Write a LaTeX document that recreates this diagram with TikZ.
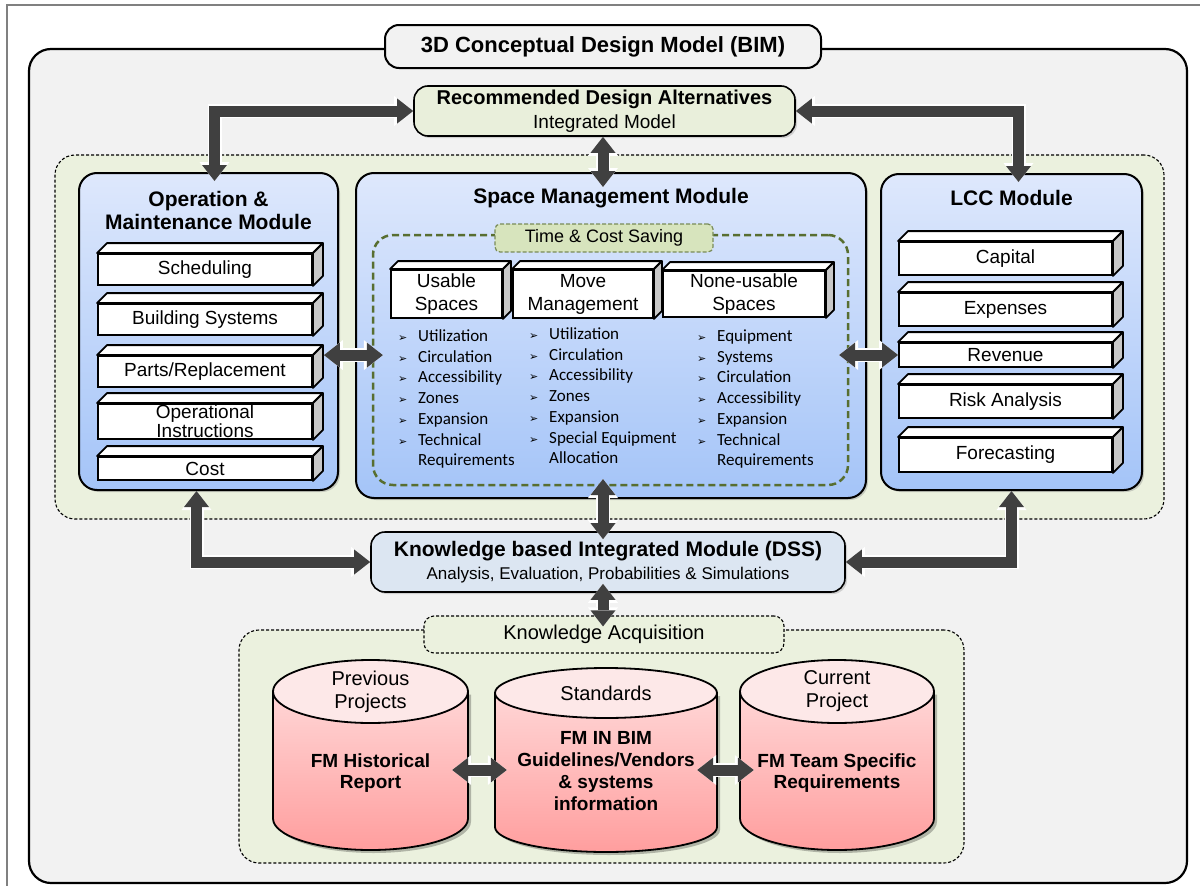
\documentclass[tikz,border=0pt]{standalone}
\usepackage{fontspec}
\setmainfont{Liberation Sans}
\newfontfamily\calibri{Carlito}
\newfontfamily\dingbat{DejaVu Sans}
\usetikzlibrary{arrows.meta,shadows,positioning}

\definecolor{paneGray}{RGB}{242,242,242}
\definecolor{paneGreen}{RGB}{235,241,222}
\definecolor{recmGreen}{RGB}{233,239,219}
\definecolor{modTop}{RGB}{222,232,252}
\definecolor{modBot}{RGB}{164,196,248}
\definecolor{olive}{RGB}{88,110,48}
\definecolor{tagGreen}{RGB}{215,228,189}
\definecolor{dssBlue}{RGB}{220,230,242}
\definecolor{linkGray}{RGB}{64,64,64}
\definecolor{sideGray}{RGB}{200,200,200}
\definecolor{drumTop}{RGB}{253,232,232}
\definecolor{drumHi}{RGB}{255,214,214}
\definecolor{drumLo}{RGB}{255,158,158}

\newcommand\fsz[2]{\fontsize{#1pt}{#2pt}\selectfont}
\newcommand\bul{\makebox[20pt][l]{\dingbat\fsz{11}{11}➢}}

\tikzset{
  pane/.style={draw, line width=2.2pt, rounded corners=22pt, fill=paneGray, inner sep=0pt},
  zone/.style={draw, line width=1.1pt, dash pattern=on 3pt off 2pt, rounded corners=20pt, fill=paneGreen, inner sep=0pt},
  capsule/.style={draw, line width=1.6pt, rounded corners=14pt, align=center, inner sep=0pt,
    drop shadow={shadow xshift=2pt, shadow yshift=-2pt, opacity=.3}},
  module/.style={draw, line width=2pt, rounded corners=18pt, top color=modTop, bottom color=modBot, inner sep=0pt,
    drop shadow={shadow xshift=2pt, shadow yshift=-2pt, opacity=.35}},
  headline/.style={font=\bfseries\fsz{21}{23}, align=center, inner sep=0pt},
  slabface/.style={draw, line width=1.8pt, fill=white, inner sep=0pt, align=center, font=\fsz{19}{22}},
  slabedge/.style={draw, line width=1.8pt, line join=round},
  point/.style={anchor=base west, inner sep=0pt, font=\calibri\fsz{17}{20}},
  link/.style={draw=linkGray, line width=11pt,
    arrows={Triangle[width=25pt,length=16pt,line width=0pt]-Triangle[width=25pt,length=16pt,line width=0pt]},
    preaction={draw=white, line width=14pt,
      arrows={Triangle[width=30pt,length=19pt,line width=0pt]-Triangle[width=30pt,length=19pt,line width=0pt]}}}
}

% box with a top and a side face
\newcommand\slab[8][]{%
  \node[slabface, minimum width=#5pt, minimum height=#6pt, #1] (#2) at (#3,#4) {#8};
  \draw[slabedge, fill=white] (#2.north west) -- ++(#7,-#7) -- ([shift={(#7,-#7)}]#2.north east) -- (#2.north east) -- cycle;
  \draw[slabedge, fill=sideGray] (#2.north east) -- ++(#7,-#7) -- ([shift={(#7,-#7)}]#2.south east) -- (#2.south east) -- cycle;
}

% database drum: name, x, x radius, top y, bottom y, y radius
\newcommand\drum[6]{%
  \fill[black, opacity=.25] (#2-#3+3,#4+3) -- (#2-#3+3,#5+3) arc[start angle=180, end angle=360, x radius=#3pt, y radius=#6pt] -- (#2+#3+3,#4+3) -- cycle;
  \shade[draw, line width=1.8pt, top color=drumHi, bottom color=drumLo] (#2-#3,#4) -- (#2-#3,#5) arc[start angle=180, end angle=360, x radius=#3pt, y radius=#6pt] -- (#2+#3,#4) -- cycle;
  \draw[line width=1.8pt, fill=drumTop] (#2,#4) ellipse[x radius=#3pt, y radius=#6pt];
  \node[inner sep=0pt, minimum width=2*#3pt] (#1) at (#2,770) {};
}

\begin{document}
\begin{tikzpicture}[x=1pt, y=-1pt]
  \useasboundingbox (0,0) rectangle (1200,886);
  \draw[gray, line width=2pt] (7,886) -- (7,5) -- (1200,5);

  \node[pane, minimum width=1158pt, minimum height=834pt] (frame) at (608,466) {};
  \node[pane, line width=2pt, rounded corners=14pt, minimum width=436pt, minimum height=43pt,
    font=\bfseries\fsz{22}{26}] (bim) at (603,46.5) {3D Conceptual Design Model (BIM)};

  \node[zone, minimum width=1109pt, minimum height=364pt] (suite) at (609.5,337) {};
  \node[zone, minimum width=725pt, minimum height=233pt] (kbase) at (601.5,746.5) {};
  \node[zone, rounded corners=10pt, minimum width=360pt, minimum height=37pt, font=\fsz{20}{22}] (acq) at (604,634.5) {Knowledge Acquisition};

  \node[capsule, fill=recmGreen, minimum width=381pt, minimum height=50pt, font=\fsz{19}{24}] (recm) at (604.5,111)
    {{\bfseries\fsz{20}{24}Recommended Design Alternatives}\\Integrated Model};
  \node[capsule, fill=dssBlue, minimum width=474pt, minimum height=60pt, font=\fsz{17}{23}] (dss) at (608,562)
    {{\bfseries\fsz{21}{23}Knowledge based Integrated Module (DSS)}\\Analysis, Evaluation, Probabilities \& Simulations};

  % the three modules
  \node[module, minimum width=259pt, minimum height=317pt] (om) at (208.5,331.5) {};
  \node[module, minimum width=510pt, minimum height=325pt] (space) at (611,335.5) {};
  \node[module, minimum width=261pt, minimum height=316pt] (lcc) at (1011.5,332) {};
  \node[headline] (omtitle) at (208.5,210.5) {Operation \&\\Maintenance Module};
  \node[headline] (spacetitle) at (611,198) {Space Management Module};
  \node[headline] (lcctitle) at (1011.5,198) {LCC Module};

  \slab{sched}{205}{269.5}{214}{31}{10}{Scheduling}
  \slab{bsys}{205}{319.5}{214}{31}{10}{Building Systems}
  \slab{parts}{205}{371.5}{214}{31}{10}{Parts/Replacement}
  \slab[font=\fsz{19}{16}]{instr}{205}{421.5}{214}{35}{10}{Operational\\Instructions}
  \slab{cost}{205}{468.5}{214}{23}{10}{Cost}

  \slab{capital}{1005.5}{258.5}{213}{33}{10}{Capital}
  \slab{expense}{1005.5}{309.5}{213}{33}{10}{Expenses}
  \slab{revenue}{1005.5}{355}{213}{24}{10}{Revenue}
  \slab{risk}{1005.5}{401.5}{213}{33}{10}{Risk Analysis}
  \slab{forecast}{1005.5}{455}{213}{34}{10}{Forecasting}

  \node[draw=olive, line width=2.5pt, dash pattern=on 7pt off 4pt, rounded corners=20pt,
    minimum width=475pt, minimum height=250pt] (saving) at (610.5,360) {};
  \node[draw=olive!80, line width=1.2pt, dash pattern=on 4pt off 2pt, fill=tagGreen, rounded corners=5pt,
    minimum width=218pt, minimum height=28pt, inner sep=0pt, font=\fsz{18}{20}] (savingtag) at (604,238) {Time \& Cost Saving};

  \slab[font=\fsz{19}{23}]{usable}{446.5}{294}{111}{48}{8}{Usable\\Spaces}
  \slab[font=\fsz{19}{23}]{move}{583}{294}{140}{48}{8}{Move\\Management}
  \slab[font=\fsz{19}{23}]{nonusable}{744}{294}{162}{46}{8}{None-usable\\Spaces}

  \foreach \t [count=\i from 0] in {Utilization,Circulation,Accessibility,Zones,Expansion,Technical}
    \node[point] (usable-\i) at (398,341.5+20.7*\i) {\bul\t};
  \node[point] (usable-6) at (418,465.7) {Requirements};
  \foreach \t [count=\i from 0] in {Utilization,Circulation,Accessibility,Zones,Expansion,Special Equipment}
    \node[point] (move-\i) at (529,339.5+20.7*\i) {\bul\t};
  \node[point] (move-6) at (549,463.7) {Allocation};
  \foreach \t [count=\i from 0] in {Equipment,Systems,Circulation,Accessibility,Expansion,Technical}
    \node[point] (nonusable-\i) at (697,341.5+20.7*\i) {\bul\t};
  \node[point] (nonusable-6) at (717,465.7) {Requirements};

  % knowledge bases
  \drum{past}{370.5}{97.5}{691.5}{818.5}{31.5}
  \drum{std}{606}{111}{693}{827}{25}
  \drum{now}{837}{97}{691.5}{818.5}{31.5}
  \node[align=center, font=\fsz{20}{23}] (pasttop) at (370.5,691.5) {Previous\\Projects};
  \node[align=center, font=\bfseries\fsz{19}{21}] (pastbody) at (370.5,773) {FM Historical\\Report};
  \node[font=\fsz{20}{23}] (stdtop) at (606,693) {Standards};
  \node[align=center, font=\bfseries\fsz{19}{22}] (stdbody) at (606,771.5) {FM IN BIM\\Guidelines/Vendors\\\& systems\\information};
  \node[align=center, font=\fsz{20}{23}] (nowtop) at (837,691.5) {Current\\Project};
  \node[align=center, font=\bfseries\fsz{19}{21}] (nowbody) at (837,773) {FM Team Specific\\Requirements};

  % connectors
  \coordinate (midline) at (603,0);
  \draw[link, shorten <=-9pt] ([xshift=6pt]om.north) |- (recm.west);
  \draw[link, shorten <=-9pt] ([xshift=7pt]lcc.north) |- (recm.east);
  \draw[link, shorten >=-15pt] (recm.south -| midline) -- (space.north -| midline);
  \draw[link] ([xshift=11pt]parts.north east) -- ++(59,0);
  \draw[link] (revenue.west) -- ++(-59,0);
  \draw[link, shorten <=-20pt, shorten >=-8pt] (space.south -| midline) -- (dss.north -| midline);
  \draw[link] ([xshift=-12pt]om.south) |- (dss.west);
  \draw[link] (lcc.south) |- (dss.east);
  \draw[link, shorten <=-9pt, shorten >=-11pt] (dss.south -| midline) -- (acq.north -| midline);
  \draw[link] ([xshift=-16pt]past.east) -- ([xshift=12pt]std.west);
  \draw[link] ([xshift=-20pt]std.east) -- ([xshift=14pt]now.west);
\end{tikzpicture}
\end{document}
